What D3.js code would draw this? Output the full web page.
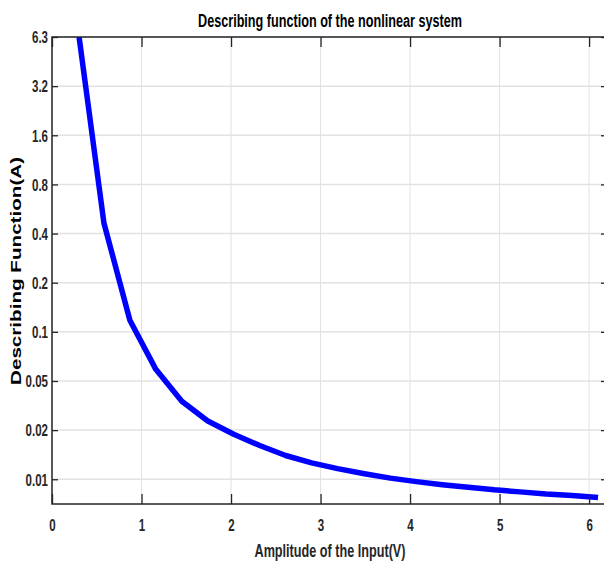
<!DOCTYPE html>
<html>
<head>
<meta charset="utf-8">
<script src="https://cdn.jsdelivr.net/npm/d3@7"></script>
<style>
  body { margin: 0; background: #fff; }
  text { font-family: "Liberation Sans", Arial, sans-serif; fill: #262626; }
</style>
</head>
<body>
<script>
// data
var amplitude = [0.29, 0.58, 0.87, 1.16, 1.45, 1.74, 2.03, 2.32, 2.61, 2.90, 3.19,
                 3.49, 3.78, 4.07, 4.36, 4.65, 4.94, 5.23, 5.52, 5.81, 6.10];
var describing = [7.1, 0.457, 0.116, 0.058, 0.037, 0.028, 0.0232, 0.0198, 0.0172, 0.0155, 0.0143,
                  0.0133, 0.0125, 0.0119, 0.0114, 0.0110, 0.0106, 0.0103, 0.0100, 0.0098, 0.0095];
var xTicks = [0, 1, 2, 3, 4, 5, 6],
    xTickLabels = ["0", "1", "2", "3", "4", "5", "6"];
var yTicks = [6.3, 3.15, 1.575, 0.7875, 0.39375, 0.196875, 0.0984375, 0.04921875, 0.024609375, 0.0123046875],
    yTickLabels = ["6.3", "3.2", "1.6", "0.8", "0.4", "0.2", "0.1", "0.05", "0.02", "0.01"];
var title = "Describing function of the nonlinear system",
    xTitle = "Amplitude of the Input(V)",
    yTitle = "Describing Function(A)";

// plot box (note: "top" is taken by window.top, so prefixed names)
var width = 604,
    height = 562,
    pL = 52, pR = 607, pT = 37, pB = 504,
    xSc = d3.scaleLinear().domain([0, 6.2]).range([pL, pR]),
    ySc = d3.scaleLog().base(2).domain([0.00868, 6.3]).range([pB, pT]),
    ink = "#262626",
    squeeze = 0.72;

var svg = d3.select("body").append("svg")
  .attr("width", width)
  .attr("height", height);

svg.append("rect").attr("width", width).attr("height", height).attr("fill", "#fff");

svg.append("clipPath").attr("id", "plot")
  .append("rect")
  .attr("x", pL).attr("y", pT)
  .attr("width", pR - pL).attr("height", pB - pT);

// grid
svg.selectAll("line.gx")
  .data(xTicks)
  .enter().append("line")
    .attr("class", "gx")
    .attr("x1", function(d) { return xSc(d); })
    .attr("x2", function(d) { return xSc(d); })
    .attr("y1", pT).attr("y2", pB)
    .style("stroke", "#e2e2e2").style("stroke-width", 1);

svg.selectAll("line.gy")
  .data(yTicks)
  .enter().append("line")
    .attr("class", "gy")
    .attr("y1", function(d) { return ySc(d); })
    .attr("y2", function(d) { return ySc(d); })
    .attr("x1", pL).attr("x2", pR)
    .style("stroke", "#e2e2e2").style("stroke-width", 1.5);

// curve
var line = d3.line()
  .x(function(d, i) { return xSc(amplitude[i]); })
  .y(function(d) { return ySc(d); });

svg.append("path")
  .datum(describing)
  .attr("clip-path", "url(#plot)")
  .attr("d", line)
  .style("fill", "none")
  .style("stroke", "#0000ff")
  .style("stroke-width", 5.5)
  .style("stroke-linejoin", "round");

// axes, ticks pointing inward on all four sides
var xAxis = d3.axisBottom(xSc).tickValues(xTicks)
  .tickFormat(function(d, i) { return xTickLabels[i]; })
  .tickSize(-10).tickPadding(0).tickSizeOuter(0);
var yAxis = d3.axisLeft(ySc).tickValues(yTicks)
  .tickFormat(function(d, i) { return yTickLabels[i]; })
  .tickSize(-6).tickPadding(0).tickSizeOuter(0);

var gx = svg.append("g")
  .attr("transform", "translate(0," + pB + ")")
  .call(xAxis);
gx.selectAll("text")
  .attr("y", 0).attr("dy", 0)
  .attr("transform", "translate(0,27) scale(" + squeeze + ",1)")
  .style("font-size", "16px").style("font-weight", "bold");

var gy = svg.append("g")
  .attr("transform", "translate(" + pL + ",0)")
  .call(yAxis);
gy.selectAll("text")
  .attr("x", 0).attr("dy", "0.36em")
  .attr("transform", "translate(-4,0) scale(" + squeeze + ",1)")
  .style("font-size", "16px").style("font-weight", "bold");

svg.append("g")
  .attr("transform", "translate(0," + pT + ")")
  .call(d3.axisTop(xSc).tickValues(xTicks).tickFormat("").tickSize(-10).tickSizeOuter(0));
svg.append("g")
  .attr("transform", "translate(" + pR + ",0)")
  .call(d3.axisRight(ySc).tickValues(yTicks).tickFormat("").tickSize(-6).tickSizeOuter(0));

svg.selectAll(".domain").remove();
svg.selectAll(".tick line").style("stroke", ink).style("stroke-width", 1.3);

// box
svg.append("rect")
  .attr("x", pL).attr("y", pT)
  .attr("width", pR - pL).attr("height", pB - pT)
  .style("fill", "none").style("stroke", ink).style("stroke-width", 1.5);

// titles
svg.append("text")
  .attr("x", 330).attr("y", 27)
  .attr("text-anchor", "middle")
  .attr("textLength", 264).attr("lengthAdjust", "spacingAndGlyphs")
  .style("font-size", "18px").style("font-weight", "bold").style("fill", "#000")
  .text(title);

svg.append("text")
  .attr("x", 330).attr("y", 557)
  .attr("text-anchor", "middle")
  .attr("textLength", 151).attr("lengthAdjust", "spacingAndGlyphs")
  .style("font-size", "17.5px").style("font-weight", "bold")
  .text(xTitle);

svg.append("text")
  .attr("transform", "translate(20.5,271) rotate(-90)")
  .attr("text-anchor", "middle")
  .attr("textLength", 228).attr("lengthAdjust", "spacingAndGlyphs")
  .style("font-size", "15px").style("font-weight", "bold").style("fill", "#000")
  .text(yTitle);
</script>
</body>
</html>
